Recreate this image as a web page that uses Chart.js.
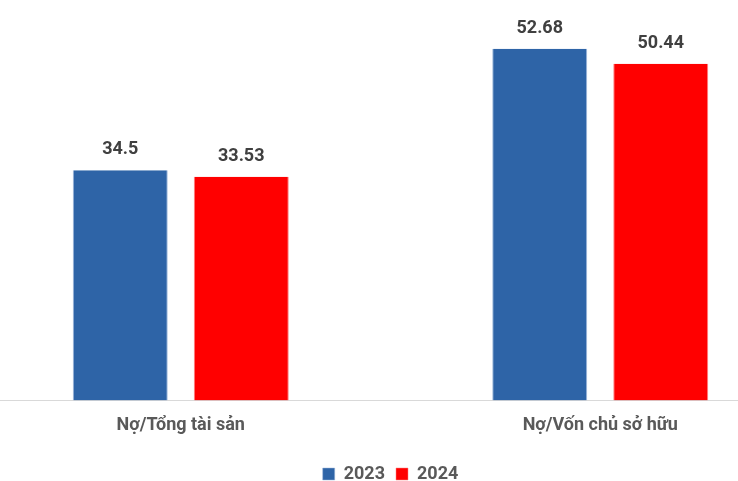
<!DOCTYPE html>
<html><head><meta charset="utf-8">
<script src="https://cdn.jsdelivr.net/npm/chart.js@4.4.1/dist/chart.umd.min.js"></script>
<style>
html,body{margin:0;padding:0;background:#fff;}
#wrap{position:relative;width:738px;height:481px;overflow:hidden;}
#box{position:absolute;left:-29px;top:0;width:839px;height:481px;}
</style></head><body>
<div id="wrap"><div id="box"><canvas id="c"></canvas></div></div>
<script>
const categories = ["Nợ/Tổng tài sản", "Nợ/Vốn chủ sở hữu"];
const seriesNames = ["2023", "2024"];
const values2023 = [34.5, 52.68];
const values2024 = [33.53, 50.44];
const valueLabels2023 = ["34.5", "52.68"];
const valueLabels2024 = ["33.53", "50.44"];

const FONT = "Roboto, 'DejaVu Sans', sans-serif";

const valuePlugin = {
  id: 'valuePlugin',
  afterLayout(chart) {
    const l = chart.legend;
    if (l) { l.top += 12; l.bottom += 12; }
  },
  afterDatasetsDraw(chart) {
    const ctx = chart.ctx;
    const labelSets = [valueLabels2023, valueLabels2024];
    ctx.save();
    ctx.font = "bold 18px " + FONT;
    ctx.fillStyle = "#404040";
    ctx.textAlign = "center";
    ctx.textBaseline = "alphabetic";
    chart.data.datasets.forEach((ds, i) => {
      const meta = chart.getDatasetMeta(i);
      meta.data.forEach((bar, j) => {
        ctx.fillText(labelSets[i][j], bar.x, bar.y - 16);
      });
    });
    ctx.restore();
  }
};

new Chart(document.getElementById('c'), {
  type: 'bar',
  data: {
    labels: categories,
    datasets: [
      { label: seriesNames[0], data: values2023, backgroundColor: '#2E64A7', borderColor: '#9DB7DA', borderWidth: {top:0,left:1,right:1,bottom:0} },
      { label: seriesNames[1], data: values2024, backgroundColor: '#FF0000', borderColor: '#FF8080', borderWidth: {top:0,left:1,right:1,bottom:0} }
    ]
  },
  options: {
    responsive: true,
    maintainAspectRatio: false,
    animation: false,
    devicePixelRatio: 1,
    layout: { padding: { top: 0, bottom: 0, left: 0, right: 0 } },
    categoryPercentage: 0.577,
    barPercentage: 0.785,
    plugins: {
      legend: {
        position: 'bottom',
        labels: {
          boxWidth: 12, boxHeight: 12, padding: 11,
          color: '#595959',
          font: { family: FONT, size: 18, weight: 'bold' }
        }
      },
      tooltip: { enabled: false }
    },
    scales: {
      x: {
        grid: { display: false },
        border: { display: true, color: '#D9D9D9', width: 1 },
        ticks: { color: '#595959', padding: 6, font: { family: FONT, size: 18, weight: 'bold' } }
      },
      y: {
        display: false,
        min: 0, max: 60
      }
    }
  },
  plugins: [valuePlugin]
});
</script>
</body></html>
